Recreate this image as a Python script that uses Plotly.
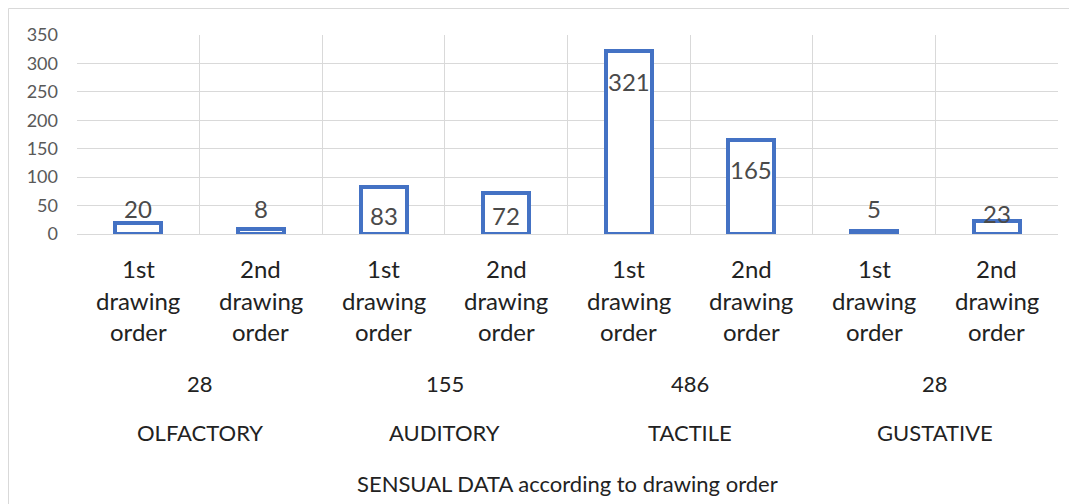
import plotly.graph_objects as go

# ---- data ----
sub_labels = ["1st drawing order", "2nd drawing order"] * 4
groups = ["OLFACTORY", "AUDITORY", "TACTILE", "GUSTATIVE"]
group_totals = [28, 155, 486, 28]
values = [20, 8, 83, 72, 321, 165, 5, 23]
label_pos = [45.7, 45.7, 33.4, 33.4, 269, 112.6, 45.7, 35.2]  # value-axis position of each data label
y_ticks = [0, 50, 100, 150, 200, 250, 300, 350]
axis_title = "SENSUAL DATA according to drawing order"

FONT = "Lato"
BLUE = "#4472C4"
GRID = "#D9D9D9"
TXT = "#222222"

xs = list(range(len(values)))

fig = go.Figure()
fig.add_trace(go.Bar(
    x=xs, y=values, width=0.375,
    marker=dict(color="white", line=dict(color=BLUE, width=4)),
    hoverinfo="x+y", showlegend=False,
))

OFF = 8  # page body margin
W, H = 1069, 496
L, T = 77 - OFF, 35 - OFF
R = W - (1058 - OFF)
B = H - (234 - OFF)
ph = H - T - B
pw = W - L - R


def py(px):  # page pixel y -> paper y
    return (H - B - (px - OFF)) / ph


ann = []
for x, v, p in zip(xs, values, label_pos):
    ann.append(dict(x=x, y=p, xref="x", yref="y", text=str(v), showarrow=False,
                    font=dict(family=FONT, size=24, color="#4a4a4a"),
                    xanchor="center", yanchor="middle"))
for x, lab in zip(xs, sub_labels):
    words = lab.split(" ")
    for w, ypx in zip(words, [268, 300, 331]):
        ann.append(dict(x=x, y=py(ypx), xref="x", yref="paper", text=w, showarrow=False,
                        font=dict(family=FONT, size=24, color=TXT),
                        xanchor="center", yanchor="middle"))
for gi, (g, t) in enumerate(zip(groups, group_totals)):
    cx = gi * 2 + 0.5
    ann.append(dict(x=cx, y=py(383), xref="x", yref="paper", text=str(t), showarrow=False,
                    font=dict(family=FONT, size=22, color=TXT),
                    xanchor="center", yanchor="middle"))
    ann.append(dict(x=cx, y=py(432), xref="x", yref="paper", text=g, showarrow=False,
                    font=dict(family=FONT, size=22, color=TXT),
                    xanchor="center", yanchor="middle"))
ann.append(dict(x=3.5, y=py(483), xref="x", yref="paper", text=axis_title, showarrow=False,
                font=dict(family=FONT, size=22, color=TXT),
                xanchor="center", yanchor="middle"))

shapes = [dict(type="rect", xref="paper", yref="paper",
               x0=(0.5 - L) / pw, x1=(W + 20 - L) / pw, y0=py(530), y1=(H - 0.5 - B) / ph,
               line=dict(color=GRID, width=1), fillcolor="rgba(0,0,0,0)", layer="below")]

fig.update_layout(
    width=W, height=H,
    margin=dict(l=L, r=R, t=T, b=B),
    paper_bgcolor="white", plot_bgcolor="white",
    bargap=0,
    annotations=ann,
    shapes=shapes,
    xaxis=dict(range=[-0.5, 7.5], showticklabels=False, showgrid=False, zeroline=False,
               tickvals=xs, ticks="",
               minor=dict(tick0=-0.5, dtick=1, showgrid=True, gridcolor=GRID, gridwidth=1, ticks=""),
               showline=False),
    yaxis=dict(range=[0, 350], tickvals=y_ticks, showgrid=True, gridcolor=GRID, gridwidth=1,
               zeroline=True, zerolinecolor=GRID, zerolinewidth=1,
               tickfont=dict(family=FONT, size=18, color="#595959"),
               ticks="", ticklabelstandoff=18, showline=False),
)

fig.write_html("out.html")
